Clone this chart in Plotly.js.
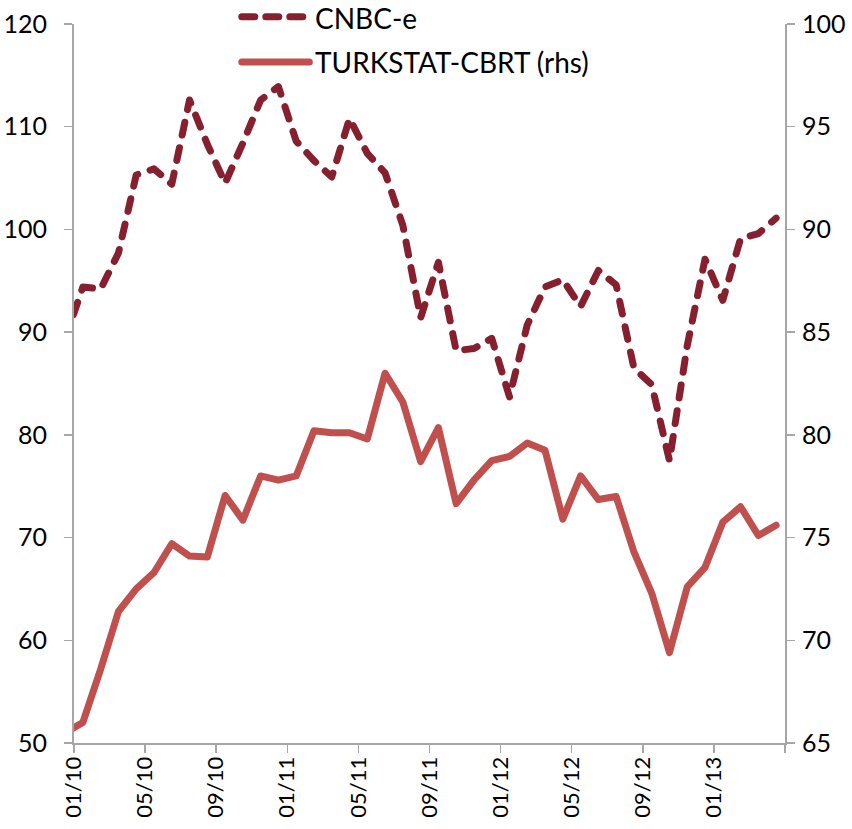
<!DOCTYPE html>
<html>
<head>
<meta charset="utf-8">
<script src="https://cdn.plot.ly/plotly-3.0.1.min.js"></script>
<style>
  html, body { margin: 0; padding: 0; background: #fff; }
  #chart { width: 852px; height: 829px; }
</style>
</head>
<body>
<div id="chart"></div>
<script>
// Monthly categories (12/09 lies just left of the visible axis range)
const months = ['12/09',
  '01/10','02/10','03/10','04/10','05/10','06/10','07/10','08/10','09/10','10/10','11/10','12/10',
  '01/11','02/11','03/11','04/11','05/11','06/11','07/11','08/11','09/11','10/11','11/11','12/11',
  '01/12','02/12','03/12','04/12','05/12','06/12','07/12','08/12','09/12','10/12','11/12','12/12',
  '01/13','02/13','03/13','04/13'];

// CNBC-e (left axis)
const cnbc = [89.3,
  94.4, 94.2, 97.7, 105.3, 105.9, 104.4, 112.6, 108.3, 104.5, 108.4, 112.6, 113.9,
  108.6, 106.7, 105.1, 110.8, 107.4, 105.5, 100.4, 91.4, 96.8, 88.2, 88.4, 89.4,
  83.7, 90.7, 94.4, 95.1, 92.5, 96.0, 94.6, 86.5, 84.9, 77.5, 88.7, 97.1,
  93.1, 99.1, 99.6, 101.1];

// TURKSTAT-CBRT (right axis)
const turkstat = [65.5,
  66.0, 68.6, 71.4, 72.5, 73.3, 74.7, 74.1, 74.05, 77.05, 75.85, 78.0, 77.8,
  78.0, 80.2, 80.1, 80.1, 79.8, 83.0, 81.6, 78.7, 80.35, 76.65, 77.8, 78.75,
  78.95, 79.6, 79.25, 75.9, 78.0, 76.85, 77.0, 74.3, 72.3, 69.4, 72.6, 73.55,
  75.75, 76.5, 75.1, 75.6];

const seriesNames = ['CNBC-e', 'TURKSTAT-CBRT (rhs)'];
const tickMonths = ['01', '05', '09'];

// category position: month index relative to 01/10
const xpos = months.map((m, i) => i - 1);
const tickvals = [], ticktext = [];
months.forEach((m, i) => {
  if (i >= 1 && tickMonths.includes(m.slice(0, 2))) {
    tickvals.push(xpos[i] - 0.5);
    ticktext.push(m);
  }
});
tickvals.push(xpos[xpos.length - 1] + 0.5);
ticktext.push('');

const darkRed = '#86202E';
const red = '#C0504D';
const axisGrey = '#A6A6A6';
const FONT = 'Lato, "Open Sans", sans-serif';

const traces = [
  { x: xpos, y: cnbc, name: seriesNames[0], type: 'scatter', mode: 'lines',
    line: { color: darkRed, width: 7, dash: '13px,13px' }, yaxis: 'y' },
  { x: xpos, y: turkstat, name: seriesNames[1], type: 'scatter', mode: 'lines',
    line: { color: red, width: 7 }, yaxis: 'y2' }
];

const layout = {
  width: 852, height: 829,
  margin: { l: 74, r: 67, t: 24, b: 86 },
  paper_bgcolor: '#ffffff', plot_bgcolor: '#ffffff',
  showlegend: false,
  font: { family: FONT, color: '#000' },
  xaxis: {
    range: [xpos[1] - 0.5, xpos[xpos.length - 1] + 0.5],
    tickmode: 'array', tickvals: tickvals, ticktext: ticktext,
    tickangle: -90, ticks: 'outside', ticklen: 8, tickcolor: axisGrey, tickwidth: 1.5,
    showline: true, linecolor: axisGrey, linewidth: 2,
    showgrid: false, zeroline: false,
    tickfont: { family: FONT, size: 22, color: '#000' },
    ticklabelstandoff: -5
  },
  yaxis: {
    range: [50, 120], dtick: 10, tick0: 50,
    ticks: 'outside', ticklen: 8, tickcolor: axisGrey, tickwidth: 1.5,
    showline: true, linecolor: axisGrey, linewidth: 2,
    showgrid: false, zeroline: false,
    tickfont: { family: FONT, size: 25, color: '#000' },
    ticklabelstandoff: 12
  },
  yaxis2: {
    range: [65, 100], dtick: 5, tick0: 65,
    overlaying: 'y', side: 'right',
    ticks: 'outside', ticklen: 8, tickcolor: axisGrey, tickwidth: 1.5,
    showline: true, linecolor: axisGrey, linewidth: 2,
    showgrid: false, zeroline: false,
    tickfont: { family: FONT, size: 25, color: '#000' },
    ticklabelstandoff: 2
  },
  shapes: [
    { type: 'line', xref: 'paper', yref: 'paper', x0: 0.236, x1: 0.331, y0: 1.010, y1: 1.010,
      line: { color: darkRed, width: 7, dash: '13px,11px' } },
    { type: 'line', xref: 'paper', yref: 'paper', x0: 0.236, x1: 0.331, y0: 0.947, y1: 0.947,
      line: { color: red, width: 7 } }
  ],
  annotations: [
    { xref: 'paper', yref: 'paper', x: 0.338, y: 1.0334, xanchor: 'left', yanchor: 'top',
      text: seriesNames[0], showarrow: false, borderpad: 0,
      font: { family: FONT, size: 28, color: '#000' } },
    { xref: 'paper', yref: 'paper', x: 0.338, y: 0.947, xanchor: 'left', yanchor: 'middle',
      text: seriesNames[1], showarrow: false, borderpad: 0,
      font: { family: FONT, size: 28, color: '#000' } }
  ]
};

Plotly.newPlot('chart', traces, layout, { displayModeBar: false, staticPlot: true }).then(gd => {
  gd.querySelectorAll('.scatterlayer path.js-line, .shapelayer path').forEach(p => {
    p.style.strokeLinecap = 'round';
    p.style.strokeLinejoin = 'round';
  });
});
</script>
</body>
</html>
